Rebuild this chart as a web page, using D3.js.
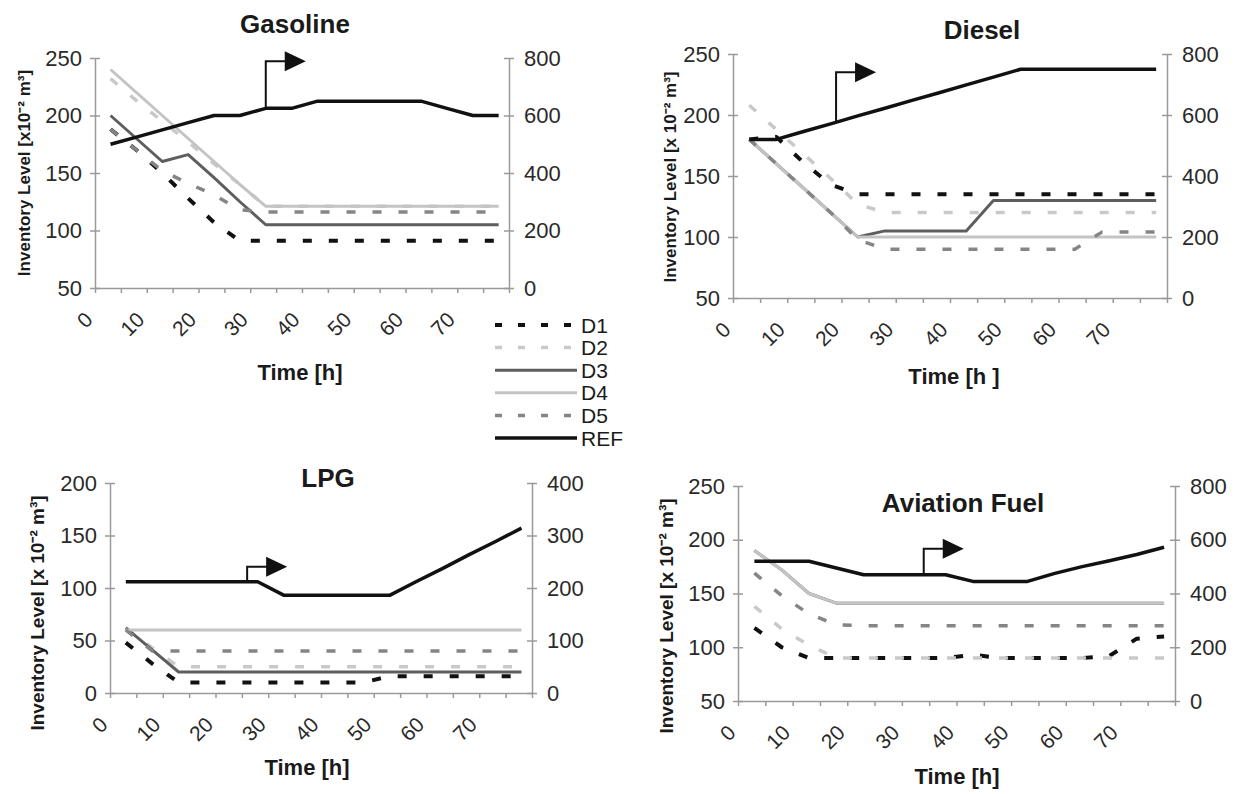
<!DOCTYPE html>
<html>
<head>
<meta charset="utf-8">
<script src="https://cdn.jsdelivr.net/npm/d3@7"></script>
<style>
  body { margin: 0; background: #fff; }
  svg { display: block; font-family: 'Liberation Sans', Arial, sans-serif; }
</style>
</head>
<body>
<svg id="chart" width="1239" height="794"></svg>
<script>
'use strict'

// time points (h) shared by every series
const times = [3, 8, 13, 18, 23, 28, 33, 38, 43, 48, 53, 58, 63, 68, 73, 78]
const seriesNames = ['D1', 'D2', 'D3', 'D4', 'D5', 'REF']
const xTickLabels = [0, 10, 20, 30, 40, 50, 60, 70]

// inventory levels (D1..D5 on left axis, REF on right axis)
const gasoline = {
    D1: [188, 170, 150, 128, 107, 91, 91, 91, 91, 91, 91, 91, 91, 91, 91, 91],
    D2: [232, 213, 195, 177, 158, 140, 121, 121, 121, 121, 121, 121, 121, 121, 121, 121],
    D3: [200, 180, 160, 166, 146, 125, 105, 105, 105, 105, 105, 105, 105, 105, 105, 105],
    D4: [240, 220, 200, 180, 160, 140, 121, 121, 121, 121, 121, 121, 121, 121, 121, 121],
    D5: [188, 170, 152, 141, 131, 118, 116, 116, 116, 116, 116, 116, 116, 116, 116, 116],
    REF: [500, 525, 550, 575, 600, 600, 625, 625, 650, 650, 650, 650, 650, 625, 600, 600]
}

const diesel = {
    D1: [180, 182, 161, 143, 135, 135, 135, 135, 135, 135, 135, 135, 135, 135, 135, 135],
    D2: [208, 188, 168, 148, 127, 120, 120, 120, 120, 120, 120, 120, 120, 120, 120, 120],
    D3: [180, 160, 140, 120, 100, 105, 105, 105, 105, 130, 130, 130, 130, 130, 130, 130],
    D4: [180, 160, 140, 120, 100, 100, 100, 100, 100, 100, 100, 100, 100, 100, 100, 100],
    D5: [180, 160, 140, 120, 98, 90, 90, 90, 90, 90, 90, 90, 90, 104, 104, 104],
    REF: [520, 520, 546, 571, 597, 622, 648, 673, 699, 724, 750, 750, 750, 750, 750, 750]
}

const lpg = {
    D1: [48, 28, 10, 10, 10, 10, 10, 10, 10, 10, 16, 16, 16, 16, 16, 16],
    D2: [62, 43, 25, 25, 25, 25, 25, 25, 25, 25, 25, 25, 25, 25, 25, 25],
    D3: [62, 41, 20, 20, 20, 20, 20, 20, 20, 20, 20, 20, 20, 20, 20, 20],
    D4: [60, 60, 60, 60, 60, 60, 60, 60, 60, 60, 60, 60, 60, 60, 60, 60],
    D5: [60, 40, 40, 40, 40, 40, 40, 40, 40, 40, 40, 40, 40, 40, 40, 40],
    REF: [212, 212, 212, 212, 212, 212, 186, 186, 186, 186, 186, 212, 237, 263, 288, 314]
}

const aviation = {
    D1: [118, 100, 90, 90, 90, 90, 90, 90, 93, 90, 90, 90, 90, 92, 108, 110],
    D2: [138, 117, 102, 90, 90, 90, 90, 90, 90, 90, 90, 90, 90, 90, 90, 90],
    D3: [190, 172, 150, 141, 141, 141, 141, 141, 141, 141, 141, 141, 141, 141, 141, 141],
    D4: [190, 172, 150, 141, 141, 141, 141, 141, 141, 141, 141, 141, 141, 141, 141, 141],
    D5: [169, 148, 131, 121, 120, 120, 120, 120, 120, 120, 120, 120, 120, 120, 120, 120],
    REF: [520, 520, 520, 495, 470, 470, 470, 470, 445, 445, 445, 475, 500, 522, 545, 572]
}

// time at which the arrow marker sits on REF
const eventTime = { gasoline: 33, diesel: 19, lpg: 26, aviation: 34 }

const styles = {
    D1: { color: '#111', width: 4, dash: '9,17' },
    D2: { color: '#c9c9c9', width: 3.5, dash: '9,17' },
    D3: { color: '#5e5e5e', width: 3, dash: null },
    D4: { color: '#c4c4c4', width: 3, dash: null },
    D5: { color: '#858585', width: 3.5, dash: '9,17' },
    REF: { color: '#111', width: 3.5, dash: null }
}

class InventoryPanel {

    constructor(element) { this.svg = element }

    render(levels, c, tEvent) {
        let x = d3.scaleLinear().domain([0, 80]).range([c.x0, c.x1])
        let yL = d3.scaleLinear().domain(c.left).range([c.yBot, c.yTop])
        let yR = d3.scaleLinear().domain(c.right).range([c.yBot, c.yTop])

        let g = this.svg.append('g')

        let bottom = g.append('g')
            .attr('transform', `translate(0,${c.yBot})`)
            .call(d3.axisBottom(x).tickValues(d3.range(0, 81, 5)).tickSize(5).tickSizeOuter(0).tickFormat(''))

        let leftAx = g.append('g')
            .attr('transform', `translate(${c.x0},0)`)
            .call(d3.axisLeft(yL).tickValues(c.leftTicks).tickSize(5).tickPadding(8).tickSizeOuter(0))
        leftAx.selectAll('.tick line').attr('x1', 5)

        let rightAx = g.append('g')
            .attr('transform', `translate(${c.x1},0)`)
            .call(d3.axisRight(yR).tickValues(c.rightTicks).tickSize(5).tickPadding(10).tickSizeOuter(0))
        rightAx.selectAll('.tick line').attr('x1', -5)

        g.selectAll('.domain, .tick line').attr('stroke', '#9a9a9a').attr('stroke-width', 1.5)
        g.selectAll('.tick text').attr('font-size', '22px').attr('fill', '#2a2a2a').attr('font-family', 'Liberation Sans, Arial, sans-serif')

        g.append('g').selectAll('text').data(xTickLabels).enter().append('text')
            .attr('transform', d => `translate(${x(d) - 1},${c.yBot + 33}) rotate(-45)`)
            .attr('text-anchor', 'end')
            .attr('font-size', '21px')
            .attr('fill', '#2a2a2a')
            .text(d => d)

        let lineL = d3.line().x((d, i) => x(times[i])).y(d => yL(d))
        let lineR = d3.line().x((d, i) => x(times[i])).y(d => yR(d))

        seriesNames.forEach(name => {
            let s = styles[name]
            g.append('path')
                .datum(levels[name])
                .attr('d', name === 'REF' ? lineR : lineL)
                .attr('fill', 'none')
                .attr('stroke', s.color)
                .attr('stroke-width', s.width)
                .attr('stroke-dasharray', s.dash)
                .attr('stroke-linejoin', 'round')
        })

        // arrow marker standing on the REF line
        let refAt = d3.scaleLinear().domain(times).range(levels.REF)
        let ax = x(tEvent), ay = yR(refAt(tEvent)), top = ay - c.stem
        g.append('path')
            .attr('d', `M${ax},${ay}V${top}H${ax + 20}`)
            .attr('fill', 'none')
            .attr('stroke', '#111')
            .attr('stroke-width', 2)
        g.append('path')
            .attr('d', `M${ax + 19},${top - 10}L${ax + 40},${top}L${ax + 19},${top + 10}Z`)
            .attr('fill', '#111')

        g.append('text')
            .attr('x', c.titleX).attr('y', c.titleY)
            .attr('text-anchor', 'middle')
            .attr('font-size', '26px').attr('font-weight', 'bold').attr('fill', '#1a1a1a')
            .text(c.title)

        g.append('text')
            .attr('x', c.timeX).attr('y', c.timeY)
            .attr('text-anchor', 'middle')
            .attr('font-size', '22px').attr('font-weight', 'bold').attr('fill', '#1a1a1a')
            .text(c.timeLabel)

        g.append('text')
            .attr('transform', `translate(${c.yLabelX},${c.yLabelY}) rotate(-90)`)
            .attr('text-anchor', 'middle')
            .attr('dy', '0.35em')
            .attr('font-size', c.yLabelSize).attr('font-weight', 'bold').attr('fill', '#1a1a1a')
            .text(c.yLabel)
    }
}

let svg = d3.select('#chart')

let panels = [
    { data: gasoline, t: eventTime.gasoline, cfg: {
        title: 'Gasoline', x0: 95, x1: 509, yTop: 58, yBot: 288,
        left: [50, 250], leftTicks: [50, 100, 150, 200, 250], right: [0, 800], rightTicks: [0, 200, 400, 600, 800],
        titleX: 295, titleY: 33, timeLabel: 'Time [h]', timeX: 300, timeY: 380,
        yLabel: 'Inventory Level [x10⁻² m³]', yLabelX: 24, yLabelY: 173, yLabelSize: '17px', stem: 47 } },
    { data: diesel, t: eventTime.diesel, cfg: {
        title: 'Diesel', x0: 733, x1: 1167, yTop: 54, yBot: 298,
        left: [50, 250], leftTicks: [50, 100, 150, 200, 250], right: [0, 800], rightTicks: [0, 200, 400, 600, 800],
        titleX: 982, titleY: 39, timeLabel: 'Time [h ]', timeX: 954, timeY: 384,
        yLabel: 'Inventory Level [x 10⁻² m³]', yLabelX: 670, yLabelY: 177, yLabelSize: '17px', stem: 50 } },
    { data: lpg, t: eventTime.lpg, cfg: {
        title: 'LPG', x0: 110, x1: 532, yTop: 483, yBot: 693,
        left: [0, 200], leftTicks: [0, 50, 100, 150, 200], right: [0, 400], rightTicks: [0, 100, 200, 300, 400],
        titleX: 328, titleY: 487, timeLabel: 'Time [h]', timeX: 307, timeY: 775,
        yLabel: 'Inventory Level [x 10⁻² m³]', yLabelX: 37, yLabelY: 613, yLabelSize: '19px', stem: 15 } },
    { data: aviation, t: eventTime.aviation, cfg: {
        title: 'Aviation Fuel', x0: 738, x1: 1175, yTop: 486, yBot: 701,
        left: [50, 250], leftTicks: [50, 100, 150, 200, 250], right: [0, 800], rightTicks: [0, 200, 400, 600, 800],
        titleX: 963, titleY: 512, timeLabel: 'Time [h]', timeX: 957, timeY: 784,
        yLabel: 'Inventory Level [x 10⁻² m³]', yLabelX: 666, yLabelY: 616, yLabelSize: '19px', stem: 26 } }
]

panels.forEach(p => new InventoryPanel(svg).render(p.data, p.cfg, p.t))

// shared legend between the upper panels
let legend = svg.append('g').selectAll('g').data(seriesNames).enter().append('g')
    .attr('transform', (d, i) => `translate(0,${325 + i * 22.6})`)

legend.append('line')
    .attr('x1', 495).attr('x2', 577)
    .attr('stroke', d => styles[d].color)
    .attr('stroke-width', d => styles[d].width)
    .attr('stroke-dasharray', d => styles[d].dash ? '7,16' : null)

legend.append('text')
    .attr('x', 581).attr('dy', '0.36em')
    .attr('font-size', '21px').attr('fill', '#1a1a1a')
    .text(d => d)
</script>
</body>
</html>
